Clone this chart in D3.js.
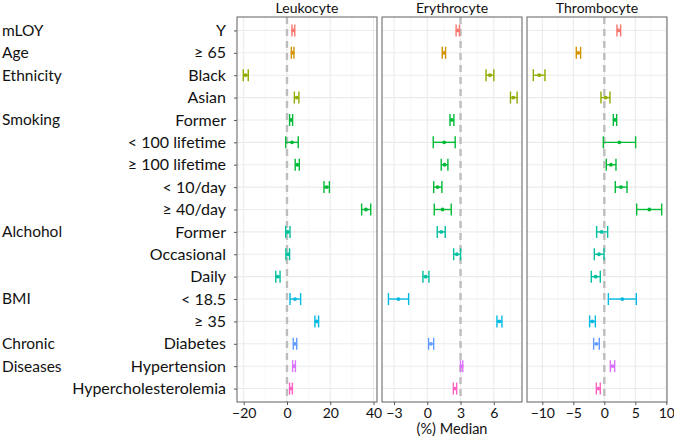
<!DOCTYPE html>
<html><head><meta charset="utf-8">
<script src="https://cdn.jsdelivr.net/npm/d3@7"></script>
<style>body{margin:0;background:#fff}text{font-family:Lato,"Open Sans",sans-serif}</style>
</head><body><svg id="c" width="674" height="438"></svg>
<script>
const rowLabels = ["Y","≥ 65","Black","Asian","Former","< 100 lifetime","≥ 100 lifetime","< 10/day","≥ 40/day","Former","Occasional","Daily","< 18.5","≥ 35","Diabetes","Hypertension","Hypercholesterolemia"];
const groupLabels = [[0,"mLOY"],[1,"Age"],[2,"Ethnicity"],[4,"Smoking"],[9,"Alchohol"],[12,"BMI"],[14,"Chronic"],[15,"Diseases"]];
const rowGroup = [0,1,2,2,3,3,3,3,3,4,4,4,5,5,6,7,8];
const groupColors = ["#F8766D","#D39200","#93AA00","#00BA38","#00C19F","#00B9E3","#619CFF","#DB72FB","#FF61C3"];
const panels = ["Leukocyte","Erythrocyte","Thrombocyte"];
const leukoMed = [2.9,2.6,-19.1,4.5,1.85,2.3,4.8,18.3,36.5,0.3,0.45,-4.3,3.7,13.7,3.7,3.2,1.85];
const leukoLo  = [2.3,2.0,-20.2,3.4,1.2,-0.6,3.8,17.1,34.5,-0.6,-0.5,-5.2,1.4,12.9,2.9,2.6,1.2];
const leukoHi  = [3.6,3.2,-17.9,5.5,2.6,5.2,5.7,19.6,38.7,1.4,1.2,-3.2,6.3,14.6,4.5,3.9,2.5];
const erythMed = [2.74,1.5,5.65,7.75,2.2,1.53,1.56,0.93,1.38,1.26,2.67,-0.15,-2.6,6.49,0.33,3.1,2.5];
const erythLo  = [2.6,1.35,5.3,7.5,2.05,0.54,1.26,0.58,0.63,0.9,2.38,-0.39,-3.5,6.28,0.12,2.99,2.35];
const erythHi  = [2.9,1.65,6.0,8.1,2.4,2.52,1.86,1.32,2.16,1.62,3.0,0.15,-1.68,6.73,0.58,3.2,2.65];
const thromMed = [2.31,-4.19,-10.5,0.22,1.72,2.42,1.08,2.69,7.26,-0.43,-0.86,-1.4,2.9,-1.94,-1.29,1.34,-0.97];
const thromLo  = [2.04,-4.52,-11.45,-0.54,1.45,-0.16,0.32,1.77,5.22,-1.24,-1.61,-2.1,0.65,-2.37,-1.72,0.97,-1.29];
const thromHi  = [2.63,-3.82,-9.57,0.91,1.99,5.05,1.88,3.66,9.25,0.54,-0.05,-0.65,5.16,-1.45,-0.81,1.67,-0.65];
const refLines = [0,3,0];
const majorTicks = [[-20,0,20,40],[-3,0,3,6],[-10,-5,0,5,10]];
const minorTicks = [[-10,10,30],[-1.5,1.5,4.5,7.5],[-7.5,-2.5,2.5,7.5]];
const domains = [[-23.1,41.6],[-4.08,8.54],[-12.47,10.11]];
const seriesMed = [leukoMed, erythMed, thromMed];
const seriesLo = [leukoLo, erythLo, thromLo];
const seriesHi = [leukoHi, erythHi, thromHi];

const svg = d3.select("#c");
const pTop = 17, pBottom = 402;
const panelX = [[237,377],[382,522],[527,667]];
const idx = d3.range(rowLabels.length);
const y = d3.scalePoint().domain(idx).range([pTop,pBottom]).padding(0.6);

const yAxis = svg.append("g").attr("transform",`translate(${panelX[0][0]},0)`)
  .call(d3.axisLeft(y).tickSize(3).tickPadding(8).tickFormat(i=>rowLabels[i]));
yAxis.select(".domain").remove();
yAxis.selectAll("line").attr("stroke","#555");
yAxis.selectAll("text").attr("fill","#111").style("font-size","16px");

svg.append("g").selectAll("text").data(groupLabels).join("text")
  .attr("x",2).attr("y",d=>y(d[0])).attr("dy","0.35em")
  .attr("fill","#111").style("font-size","15.5px").text(d=>d[1]);

panels.forEach((name,p)=>{
  const [x0,x1] = panelX[p];
  const x = d3.scaleLinear().domain(domains[p]).range([x0,x1]);
  const g = svg.append("g");
  g.append("rect").attr("x",x0).attr("y",pTop).attr("width",x1-x0).attr("height",pBottom-pTop).attr("fill","#fff");
  g.selectAll(".mn").data(minorTicks[p]).join("line")
    .attr("x1",d=>x(d)).attr("x2",d=>x(d)).attr("y1",pTop).attr("y2",pBottom)
    .attr("stroke","#f2f2f2").attr("stroke-width",0.6);
  g.selectAll(".mj").data(majorTicks[p]).join("line")
    .attr("x1",d=>x(d)).attr("x2",d=>x(d)).attr("y1",pTop).attr("y2",pBottom)
    .attr("stroke","#ebebeb").attr("stroke-width",1.1);
  g.selectAll(".hg").data(idx).join("line")
    .attr("x1",x0).attr("x2",x1).attr("y1",d=>y(d)).attr("y2",d=>y(d))
    .attr("stroke","#ebebeb").attr("stroke-width",1.1);
  g.append("line").attr("x1",x(refLines[p])).attr("x2",x(refLines[p])).attr("y1",pTop).attr("y2",pBottom)
    .attr("stroke","#bdbdbd").attr("stroke-width",2.4).attr("stroke-dasharray","7,5");
  const med = seriesMed[p], lo = seriesLo[p], hi = seriesHi[p];
  const eb = g.selectAll(".eb").data(idx).join("g").attr("stroke",i=>groupColors[rowGroup[i]]).attr("stroke-width",1.4);
  eb.append("line").attr("x1",i=>x(lo[i])).attr("x2",i=>x(hi[i])).attr("y1",i=>y(i)).attr("y2",i=>y(i));
  eb.append("line").attr("x1",i=>x(lo[i])).attr("x2",i=>x(lo[i])).attr("y1",i=>y(i)-6).attr("y2",i=>y(i)+6);
  eb.append("line").attr("x1",i=>x(hi[i])).attr("x2",i=>x(hi[i])).attr("y1",i=>y(i)-6).attr("y2",i=>y(i)+6);
  g.selectAll(".pt").data(idx).join("circle")
    .attr("cx",i=>x(med[i])).attr("cy",i=>y(i)).attr("r",1.9).attr("fill",i=>groupColors[rowGroup[i]]);
  g.append("rect").attr("x",x0).attr("y",pTop).attr("width",x1-x0).attr("height",pBottom-pTop)
    .attr("fill","none").attr("stroke","#6e6e6e").attr("stroke-width",1.1);
  const xa = g.append("g").attr("transform",`translate(0,${pBottom})`)
    .call(d3.axisBottom(x).tickValues(majorTicks[p]).tickSize(3).tickPadding(3).tickFormat(d3.format("d")));
  xa.select(".domain").remove();
  xa.selectAll("line").attr("stroke","#555");
  xa.selectAll("text").attr("fill","#111").style("font-size","14px").style("font-family","Lato,sans-serif");
  g.append("text").attr("x",(x0+x1)/2).attr("y",13).attr("text-anchor","middle")
    .attr("fill","#111").style("font-size","14px").text(name);
});
svg.append("text").attr("x",452).attr("y",434).attr("text-anchor","middle")
  .attr("fill","#111").style("font-size","14.5px").text("(%) Median");
</script></body></html>
